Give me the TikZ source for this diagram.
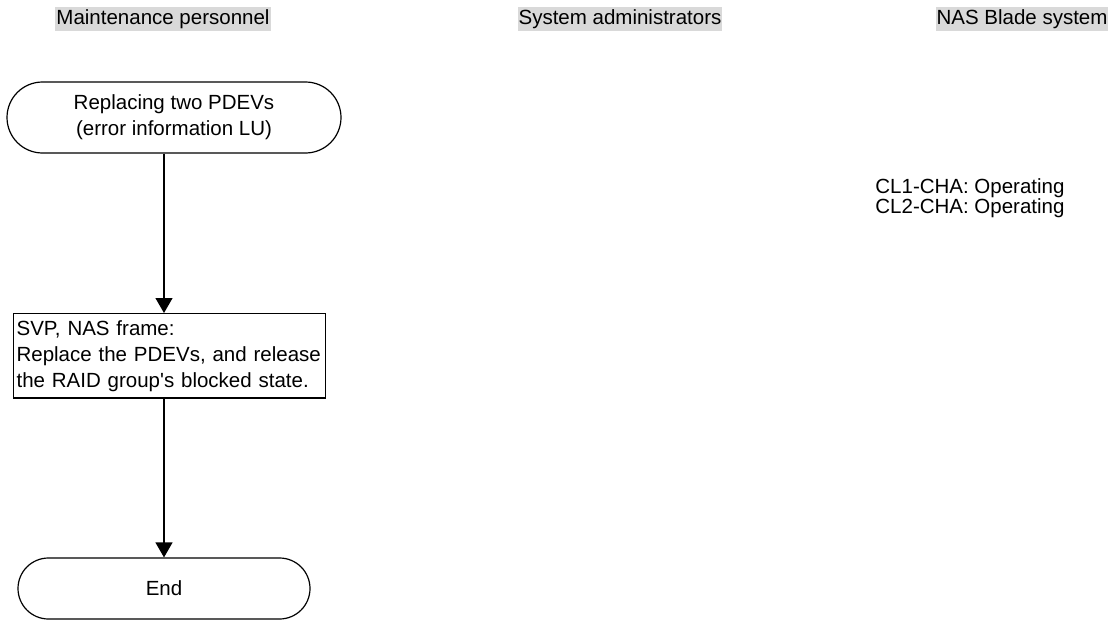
\documentclass[tikz,border=0pt]{standalone}
\usepackage{fontspec}
\setmainfont{Liberation Sans}
\usetikzlibrary{arrows.meta,calc,positioning}
\definecolor{LaneGray}{RGB}{217,217,217}
\newcommand{\flowfont}{\fontsize{10.25}{13}\selectfont}
\tikzset{
  lanehead/.style={fill=LaneGray,inner xsep=.5pt,inner ysep=0pt,minimum height=12pt,font=\flowfont},
  terminal/.style={draw,line width=.6pt,align=center,font=\flowfont},
  stepbox/.style={draw,line width=.6pt,align=left,anchor=north west,inner xsep=1.5pt,
    minimum width=156pt,minimum height=41.5pt,text width=153pt,font=\flowfont},
  flow/.style={-{Triangle[length=7.5pt,width=8.5pt]},line width=.6pt}
}
\begin{document}
\begin{tikzpicture}[x=.5pt,y=-.5pt]
\useasboundingbox (0,0) rectangle (1115,621);
% lane headers
\foreach \x/\name/\txt in {163/maint/Maintenance personnel,620/admin/System administrators,1022/nas/NAS Blade system}
  \node[lanehead] (\name) at (\x,19) {\txt};
% maintenance personnel
\node[terminal,minimum width=167pt,minimum height=35.5pt,rounded corners=17.75pt] (start) at (174,117.5)
  {Replacing two PDEVs\\(error information LU)};
\node[stepbox] (replace) at (13,313)
  {SVP, NAS frame:\\Replace the PDEVs, and release\\the RAID group\textquotesingle s blocked state.\vphantom{p}};
\node[terminal,minimum width=146pt,minimum height=30.5pt,rounded corners=15.25pt] (end) at (164,588.5) {End};
\draw[flow] (start.south -| end.north) -- (replace.north -| end.north);
\draw[flow] (replace.south -| end.north) -- (end.north);
% NAS Blade system
\node[align=left,anchor=west,inner sep=0pt,font=\fontsize{10.25}{10}\selectfont] (cha) at (875,198)
  {CL1-CHA: Operating\\CL2-CHA: Operating};
\end{tikzpicture}
\end{document}
